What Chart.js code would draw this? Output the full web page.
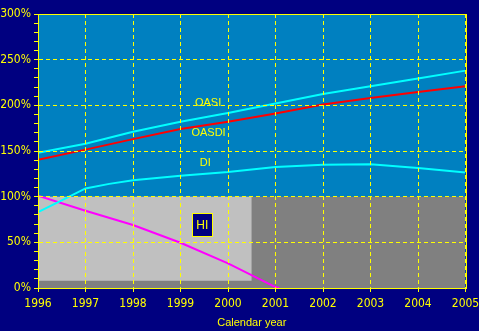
<!DOCTYPE html>
<html>
<head>
<meta charset="utf-8">
<script src="https://cdn.jsdelivr.net/npm/chart.js@4/dist/chart.umd.min.js"></script>
<style>
  html, body { margin: 0; padding: 0; background: #000080; }
  #wrap { width: 479px; height: 331px; position: relative; }
</style>
</head>
<body>
<div id="wrap"><canvas id="c" width="479" height="331"></canvas></div>
<script>
// ---- data ----
const oasiYears  = [1996, 1997, 1998, 1999, 2000, 2001, 2002, 2003, 2004, 2005];
const oasiVals   = [148, 158, 171, 182, 191.5, 202, 212.5, 221, 229.5, 238];
const oasdiYears = [1996, 1997, 1998, 1999, 2000, 2001, 2002, 2003, 2004, 2005];
const oasdiVals  = [140.5, 151.5, 163, 174, 182, 191, 201, 208, 214.5, 221];
const diYears    = [1996, 1996.5, 1997, 1997.5, 1998, 1999, 2000, 2001, 2002, 2003, 2004, 2005];
const diVals     = [83, 96, 109, 114, 118, 123, 127, 132.5, 135, 135.5, 131.5, 126.5];
const hiYears    = [1996, 1997, 1998, 1999, 2000, 2001, 2001.08];
const hiVals     = [101, 84.5, 69, 49.5, 27, 1, 0];

// shaded HI bands: [x start, x end] and [y low, y high]
const darkBandX  = [1996, 2005];
const darkBandY  = [0, 100];
const lightBandX = [1996, 2000.5];
const lightBandY = [8, 100];

// in-chart labels
const labelText = ['OASI', 'OASDI', 'DI'];
const labelX    = [1999.58, 1999.59, 1999.52];
const labelY    = [203, 169.5, 136.7];
const hiLabel   = 'HI';
const hiLabelX  = 1999.46;
const hiLabelY  = 68.8;

const xTicksMin = 1996, xTicksMax = 2005;
const yTicksMin = 0, yTicksMax = 300;
const xTitle = 'Calendar year';

const YELLOW = '#FFFF00';
const NAVY = '#000080';
const PLOT_BG = '#0080C0';
const tickFont = { family: "'Liberation Sans Narrow', 'DejaVu Sans Condensed', sans-serif", size: 12 };
const textFont = "11px 'Liberation Sans', Arial, sans-serif";

const zip = (xs, ys) => xs.map((x, i) => ({ x: x, y: ys[i] }));

const bgPlugin = {
  id: 'bg',
  beforeDraw(chart) {
    const { ctx, chartArea: a } = chart;
    ctx.save();
    ctx.fillStyle = NAVY;
    ctx.fillRect(0, 0, chart.width, chart.height);
    ctx.fillStyle = PLOT_BG;
    ctx.fillRect(a.left, a.top, a.right - a.left, a.bottom - a.top);
    ctx.restore();
  }
};

const labelPlugin = {
  id: 'labels',
  afterDatasetsDraw(chart) {
    const { ctx } = chart;
    const xs = chart.scales.x, ys = chart.scales.y;
    ctx.save();
    ctx.font = textFont;
    ctx.fillStyle = YELLOW;
    ctx.textAlign = 'center';
    ctx.textBaseline = 'middle';
    labelText.forEach((t, i) => {
      ctx.fillText(t, xs.getPixelForValue(labelX[i]), ys.getPixelForValue(labelY[i]));
    });
    const hx = xs.getPixelForValue(hiLabelX), hy = ys.getPixelForValue(hiLabelY);
    const bw = 21, bh = 24;
    ctx.fillStyle = NAVY;
    ctx.fillRect(Math.round(hx - bw / 2), Math.round(hy - bh / 2), bw, bh);
    ctx.strokeStyle = YELLOW;
    ctx.lineWidth = 1;
    ctx.strokeRect(Math.round(hx - bw / 2) + 0.5, Math.round(hy - bh / 2) + 0.5, bw - 1, bh - 1);
    ctx.fillStyle = YELLOW;
    ctx.font = "12px 'Liberation Sans', Arial, sans-serif";
    ctx.fillText(hiLabel, hx, hy + 0.5);
    ctx.restore();
  },
  afterDraw(chart) {
    const { ctx, chartArea: a } = chart;
    ctx.save();
    ctx.strokeStyle = YELLOW;
    ctx.lineWidth = 1;
    ctx.setLineDash([]);
    ctx.strokeRect(Math.round(a.left) + 0.5, Math.round(a.top) + 0.5,
                   Math.round(a.right) - Math.round(a.left), Math.round(a.bottom) - Math.round(a.top));
    ctx.restore();
  }
};

const lineDs = (label, xs, ys, color, order) => ({
  label: label, data: zip(xs, ys), borderColor: color, backgroundColor: color,
  borderWidth: 2, pointRadius: 0, tension: 0, fill: false, order: order
});

new Chart(document.getElementById('c'), {
  type: 'line',
  data: {
    datasets: [
      lineDs('OASI', oasiYears, oasiVals, '#00FFFF', 1),
      lineDs('OASDI', oasdiYears, oasdiVals, '#FF0000', 2),
      lineDs('DI', diYears, diVals, '#00FFFF', 3),
      lineDs('HI', hiYears, hiVals, '#FF00FF', 4),
      {
        label: 'light', data: zip(lightBandX, [lightBandY[1], lightBandY[1]]),
        borderWidth: 0, borderColor: 'rgba(0,0,0,0)', pointRadius: 0,
        backgroundColor: '#C0C0C0', fill: { value: lightBandY[0] }, order: 9
      },
      {
        label: 'dark', data: zip(darkBandX, [darkBandY[1], darkBandY[1]]),
        borderWidth: 0, borderColor: 'rgba(0,0,0,0)', pointRadius: 0,
        backgroundColor: '#808080', fill: { value: darkBandY[0] }, order: 10
      }
    ]
  },
  options: {
    responsive: false,
    animation: false,
    events: [],
    layout: { padding: { top: 14, right: 13.5, left: 0, bottom: 0 } },
    plugins: { legend: { display: false }, tooltip: { enabled: false } },
    scales: {
      x: {
        type: 'linear', min: xTicksMin, max: xTicksMax,
        afterFit(s) { s.height = 43; s.paddingRight = 0; s.paddingLeft = 0; },
        ticks: {
          stepSize: 1, autoSkip: false, maxRotation: 0, color: YELLOW, font: tickFont, padding: 5,
          callback: v => String(v)
        },
        grid: { color: YELLOW, lineWidth: 1, tickColor: YELLOW, tickLength: 4, z: 1 },
        border: { display: true, color: YELLOW, width: 1, dash: [4, 3], z: 1 },
        title: { display: true, text: xTitle, color: YELLOW,
                 font: { family: "'Liberation Sans', Arial, sans-serif", size: 11 },
                 padding: { top: 0, bottom: 1 } }
      },
      y: {
        type: 'linear', min: yTicksMin, max: yTicksMax,
        afterFit(s) { s.width = 38; s.paddingTop = 0; s.paddingBottom = 0; },
        ticks: {
          stepSize: 10, autoSkip: false, color: YELLOW, font: tickFont, padding: 3,
          callback: v => (v % 50 === 0 ? v + '%' : '')
        },
        grid: {
          color: c => (c.tick && c.tick.value % 50 === 0 ? YELLOW : 'rgba(0,0,0,0)'),
          lineWidth: 1, tickColor: YELLOW, tickLength: 4, z: 1
        },
        border: { display: true, color: YELLOW, width: 1, dash: [4, 3], z: 1 }
      }
    }
  },
  plugins: [bgPlugin, labelPlugin]
});
</script>
</body>
</html>
